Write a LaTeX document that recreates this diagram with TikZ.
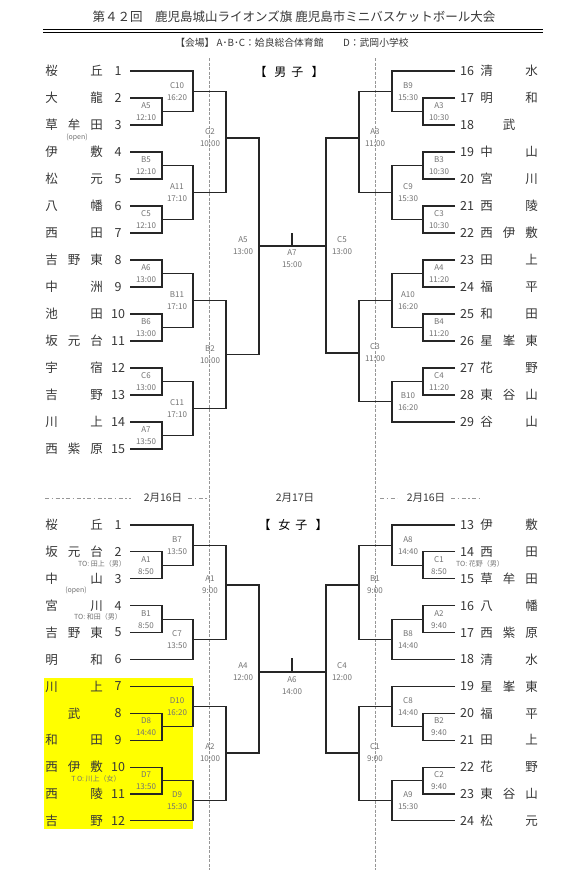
\documentclass[tikz,border=0pt]{standalone}
\usepackage{fontspec}
\setmainfont{Noto Sans CJK JP}
\usepackage{tikz}
\usetikzlibrary{positioning}
\definecolor{inkgray}{RGB}{55,55,55}
\definecolor{timegray}{RGB}{115,115,115}
\definecolor{guidegray}{RGB}{150,150,150}
\definecolor{hiyellow}{RGB}{255,255,0}
\newcommand{\tname}[3]{\hbox to 58pt{\hbox to 13pt{\hss#1\hss}\hfil\hbox to 13pt{\hss#2\hss}\hfil\hbox to 13pt{\hss#3\hss}}}
\tikzset{
  headline/.style={inner sep=0pt, text=inkgray, font=\fontsize{12.5}{15}\selectfont},
  venue/.style={inner sep=0pt, text=inkgray, font=\fontsize{9.8}{11}\selectfont},
  sexhead/.style={inner sep=0pt, text=black, font=\fontsize{12}{14}\selectfont},
  dayhead/.style={inner sep=0pt, text=inkgray, font=\fontsize{10.5}{12}\selectfont},
  team/.style={inner sep=0pt, text=inkgray, font=\fontsize{12.5}{14}\selectfont},
  seed/.style={team},
  game/.style={align=center, inner sep=0pt, text=timegray, font=\fontsize{8}{12}\selectfont},
  gamel/.style={game, xshift=-16pt},
  gamer/.style={game, xshift=16pt},
  tonote/.style={inner sep=0pt, text=timegray, font=\fontsize{7}{8}\selectfont},
  bline/.style={draw=black!85, line width=1.1pt},
  guide/.style={draw=guidegray, line width=0.6pt, dash pattern=on 3pt off 1.5pt},
  dayline/.style={draw=guidegray, line width=0.7pt, dash pattern=on 4pt off 2.5pt on 1.5pt off 2.5pt},
}

\begin{document}
\begin{tikzpicture}[x=1pt, y=-1pt]
\useasboundingbox (0,0) rectangle (582,870);
\fill[white] (0,0) rectangle (582,870);

\node[headline] (title) at (294,17) {第４２回　鹿児島城山ライオンズ旗 鹿児島市ミニバスケットボール大会};
\draw[line width=1.1pt] (43,29.5) -- (543,29.5);
\draw[line width=0.6pt] (43,32.3) -- (543,32.3);
\node[venue] (venue) at (292,43) {【会場】 A･B･C：姶良総合体育館　　D：武岡小学校};

\draw[guide] (209.5,58) -- (209.5,870);
\draw[guide] (375.5,58) -- (375.5,870);
\fill[hiyellow] (44,678) rectangle (193,829);

\node[sexhead] (boys) at (289,72) {【\hspace{8pt}男\hspace{5pt}子\hspace{8pt}】};
\node[sexhead] (girls) at (293,525) {【\hspace{8pt}女\hspace{5pt}子\hspace{8pt}】};

\node[dayhead] (day1) at (163,498) {2月16日};
\node[dayhead] (day2) at (295,498) {2月17日};
\node[dayhead] (day3) at (426,498) {2月16日};
\draw[dayline] (45,498) -- (131,498);
\draw[dayline] (188,498) -- (209,498);
\draw[dayline] (380,498) -- (397,498);
\draw[dayline] (451,498) -- (481,498);

% boys teams
\foreach \n/\a/\b/\c in {1/桜/{}/丘, 2/大/{}/龍, 3/草/牟/田, 4/伊/{}/敷, 5/松/{}/元,
    6/八/{}/幡, 7/西/{}/田, 8/吉/野/東, 9/中/{}/洲, 10/池/{}/田, 11/坂/元/台,
    12/宇/{}/宿, 13/吉/{}/野, 14/川/{}/上, 15/西/紫/原} {
  \node[team, anchor=west] (bn\n) at (45,{71+27*(\n-1)}) {\tname{\a}{\b}{\c}};
  \node[seed] (bs\n) at (118,{71+27*(\n-1)}) {\n};
  \coordinate (bt\n) at (130,{71+27*(\n-1)});
}
\foreach \n/\a/\b/\c in {16/清/{}/水, 17/明/{}/和, 18/{}/武/{}, 19/中/{}/山, 20/宮/{}/川,
    21/西/{}/陵, 22/西/伊/敷, 23/田/{}/上, 24/福/{}/平, 25/和/{}/田, 26/星/峯/東,
    27/花/{}/野, 28/東/谷/山, 29/谷/{}/山} {
  \node[team, anchor=west] (bn\n) at (480,{71+27*(\n-16)}) {\tname{\a}{\b}{\c}};
  \node[seed] (bs\n) at (467,{71+27*(\n-16)}) {\n};
  \coordinate (bt\n) at (455,{71+27*(\n-16)});
}

% girls teams
\foreach \n/\a/\b/\c in {1/桜/{}/丘, 2/坂/元/台, 3/中/{}/山, 4/宮/{}/川, 5/吉/野/東,
    6/明/{}/和, 7/川/{}/上, 8/{}/武/{}, 9/和/{}/田, 10/西/伊/敷, 11/西/{}/陵, 12/吉/{}/野} {
  \node[team, anchor=west] (gn\n) at (45,{525+26.9*(\n-1)}) {\tname{\a}{\b}{\c}};
  \node[seed] (gs\n) at (118,{525+26.9*(\n-1)}) {\n};
  \coordinate (gt\n) at (130,{525+26.9*(\n-1)});
}
\foreach \n/\a/\b/\c in {13/伊/{}/敷, 14/西/{}/田, 15/草/牟/田, 16/八/{}/幡, 17/西/紫/原,
    18/清/{}/水, 19/星/峯/東, 20/福/{}/平, 21/田/{}/上, 22/花/{}/野, 23/東/谷/山, 24/松/{}/元} {
  \node[team, anchor=west] (gn\n) at (480,{525+26.9*(\n-13)}) {\tname{\a}{\b}{\c}};
  \node[seed] (gs\n) at (467,{525+26.9*(\n-13)}) {\n};
  \coordinate (gt\n) at (455,{525+26.9*(\n-13)});
}

\node[tonote] (open1) at (77,137) {(open)};
\node[tonote] (open2) at (76,590) {(open)};
\node[tonote] (to1) at (102,564) {TO: 田上（男）};
\node[tonote] (to2) at (98,617) {TO: 和田（男）};
\node[tonote] (to3) at (96,779) {T O: 川上（女）};
\node[tonote] (to4) at (480,564) {TO: 花野（男）};

% games, left half
\foreach \m/\x/\y/\g/\t in {bA5/162/111.5/A5/12:10, bC10/193/91.25/C10/16:20,
    bB5/162/165.5/B5/12:10, bC5/162/219.5/C5/12:10, bA11/193/192.5/A11/17:10,
    bC2q/226/138/C2/10:00, bA6/162/273.5/A6/13:00, bB6/162/327.5/B6/13:00,
    bB11/193/300.5/B11/17:10, bC6/162/381.5/C6/13:00, bA7/162/435.5/A7/13:50,
    bC11/193/408.5/C11/17:10, bB2q/226/354.5/B2/10:00, bA5s/259/246/A5/13:00,
    gA1/162/565.35/A1/8:50, gB7/193/545.2/B7/13:50, gB1/162/619.15/B1/8:50,
    gC7/193/639.3/C7/13:50, gA1q/226/585/A1/9:00, gD8/162/726.75/D8/14:40,
    gD10/193/706.6/D10/16:20, gD7/162/780.55/D7/13:50, gD9/193/800.7/D9/15:30,
    gA2q/226/753/A2/10:00, gA4s/259/672/A4/12:00} {
  \coordinate (\m) at (\x,\y);
  \node[gamel] (l\m) at (\m) {\g\\\t};
}
% games, right half
\foreach \m/\x/\y/\g/\t in {bA3/423/111.5/A3/10:30, bB9/392/91.25/B9/15:30,
    bB3/423/165.5/B3/10:30, bC3/423/219.5/C3/10:30, bC9/392/192.5/C9/15:30,
    bA3q/359/138/A3/11:00, bA4/423/273.5/A4/11:20, bB4/423/327.5/B4/11:20,
    bA10/392/300.5/A10/16:20, bC4/423/381.5/C4/11:20, bB10/392/401.75/B10/16:20,
    bC3q/359/353/C3/11:00, bC5s/326/246/C5/13:00,
    gC1/423/565.35/C1/8:50, gA8/392/545.2/A8/14:40, gA2/423/619.15/A2/9:40,
    gB8/392/639.3/B8/14:40, gB1q/359/585/B1/9:00, gB2/423/726.75/B2/9:40,
    gC8/392/706.6/C8/14:40, gC2/423/780.55/C2/9:40, gA9/392/800.7/A9/15:30,
    gC1q/359/753/C1/9:00, gC4s/326/672/C4/12:00} {
  \coordinate (\m) at (\x,\y);
  \node[gamer] (l\m) at (\m) {\g\\\t};
}

\coordinate (bA7f) at (292,246);
\coordinate (bA7t) at (292,233);
\node[game] (lbA7f) at (292,259) {A7\\15:00};
\coordinate (gA6f) at (292,672);
\coordinate (gA6t) at (292,658);
\node[game] (lgA6f) at (292,685.5) {A6\\14:00};

\foreach \a/\m/\b in {bt2/bA5/bt3, bt1/bC10/bA5, bt4/bB5/bt5, bt6/bC5/bt7,
    bB5/bA11/bC5, bC10/bC2q/bA11, bt8/bA6/bt9, bt10/bB6/bt11, bA6/bB11/bB6,
    bt12/bC6/bt13, bt14/bA7/bt15, bC6/bC11/bA7, bB11/bB2q/bC11, bC2q/bA5s/bB2q,
    bt17/bA3/bt18, bt16/bB9/bA3, bt19/bB3/bt20, bt21/bC3/bt22, bB3/bC9/bC3,
    bB9/bA3q/bC9, bt23/bA4/bt24, bt25/bB4/bt26, bA4/bA10/bB4, bt27/bC4/bt28,
    bC4/bB10/bt29, bA10/bC3q/bB10, bA3q/bC5s/bC3q,
    gt2/gA1/gt3, gt1/gB7/gA1, gt4/gB1/gt5, gB1/gC7/gt6, gB7/gA1q/gC7,
    gt8/gD8/gt9, gt7/gD10/gD8, gt10/gD7/gt11, gD7/gD9/gt12, gD10/gA2q/gD9,
    gA1q/gA4s/gA2q, gt14/gC1/gt15, gt13/gA8/gC1, gt16/gA2/gt17, gA2/gB8/gt18,
    gA8/gB1q/gB8, gt20/gB2/gt21, gt19/gC8/gB2, gt22/gC2/gt23, gC2/gA9/gt24,
    gC8/gC1q/gA9, gB1q/gC4s/gC1q}
  \draw[bline] (\a) -| (\m) |- (\b);
\draw[bline] (bA5s) -- (bC5s);
\draw[bline] (bA7f) -- (bA7t);
\draw[bline] (gA4s) -- (gC4s);
\draw[bline] (gA6f) -- (gA6t);
\end{tikzpicture}
\end{document}
